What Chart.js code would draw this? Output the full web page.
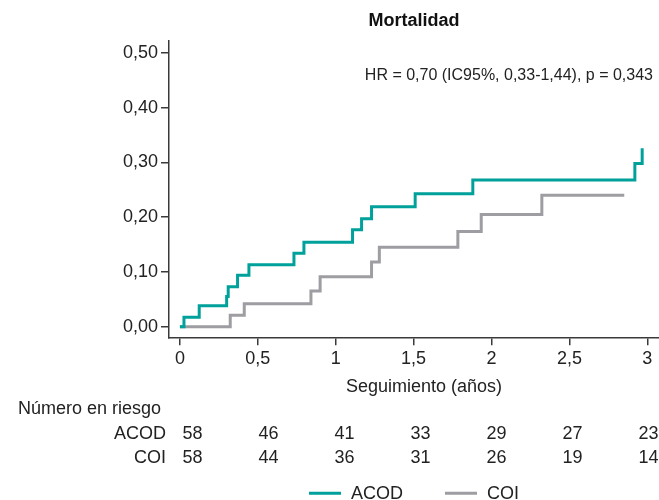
<!DOCTYPE html>
<html lang="es">
<head>
  <meta charset="UTF-8">
  <title>Mortalidad</title>
  <script src="https://cdn.jsdelivr.net/npm/chart.js"></script>
  <style>
    body {
      margin: 0;
      background: #fff;
    }
    #wrap {
      width: 659px;
      height: 500px;
    }
  </style>
</head>
<body>
  <div id="wrap"><canvas id="grafico"></canvas></div>

  <script>
    // curvas de incidencia acumulada (tiempo en años, valor)
    const acodTime = [0, 0.026, 0.124, 0.30, 0.31, 0.37, 0.443, 0.732, 0.796, 1.108, 1.166, 1.23, 1.51, 1.88, 2.92, 2.967];
    const acodValue = [0, 0.017, 0.038, 0.055, 0.073, 0.094, 0.113, 0.134, 0.154, 0.177, 0.197, 0.219, 0.243, 0.268, 0.298, 0.326];
    const coiTime = [0, 0.323, 0.413, 0.841, 0.90, 1.23, 1.28, 1.784, 1.934, 2.323, 2.852];
    const coiValue = [0, 0.021, 0.042, 0.065, 0.091, 0.118, 0.145, 0.174, 0.205, 0.240, 0.240];

    const xTicks = [0, 0.5, 1, 1.5, 2, 2.5, 3];
    const xTickLabels = ["0", "0,5", "1", "1,5", "2", "2,5", "3"];
    const yTicks = [0, 0.1, 0.2, 0.3, 0.4, 0.5];
    const yTickLabels = ["0,00", "0,10", "0,20", "0,30", "0,40", "0,50"];

    // número en riesgo
    const riskGroups = ["ACOD", "COI"];
    const acodRisk = [58, 46, 41, 33, 29, 27, 23];
    const coiRisk = [58, 44, 36, 31, 26, 19, 14];

    const hrText = "HR = 0,70 (IC95%, 0,33-1,44), p = 0,343";
    const xTitle = "Seguimiento (años)";

    const FONT = '"Liberation Sans", Arial, Helvetica, sans-serif';
    const TEXT = "#222";
    const AXIS = "#3a3a3a";

    const toPoints = (ts, vs) => ts.map((t, i) => ({ x: t, y: vs[i] }));

    // textos fuera de los ejes: HR, título del eje x, tabla de riesgo y leyenda
    const extras = {
      id: "extras",
      afterDraw(chart) {
        const ctx = chart.ctx;
        const x = chart.scales.x;
        const area = chart.chartArea;
        const mid = (area.left + area.right) / 2;
        ctx.save();
        ctx.fillStyle = TEXT;
        ctx.textBaseline = "alphabetic";

        ctx.font = "16px " + FONT;
        ctx.textAlign = "right";
        ctx.fillText(hrText, area.right - 6, area.top + 39);

        ctx.font = "18px " + FONT;
        ctx.textAlign = "center";
        ctx.fillText(xTitle, mid + 10, area.bottom + 55);

        ctx.textAlign = "left";
        ctx.fillText("Número en riesgo", 18, area.bottom + 77);
        [acodRisk, coiRisk].forEach((vals, r) => {
          const yy = area.bottom + 102 + r * 24;
          ctx.textAlign = "right";
          ctx.fillText(riskGroups[r], area.left - 3, yy);
          ctx.textAlign = "center";
          vals.forEach((v, i) => {
            const t = xTicks[i];
            ctx.fillText(String(v), x.getPixelForValue(t) + 12.5 - 3.8 * t, yy);
          });
        });

        // leyenda
        const lineLen = 32, gap = 10, between = 42;
        const sets = chart.data.datasets;
        const widths = sets.map(d => lineLen + gap + ctx.measureText(d.label).width);
        let cx = mid - (widths.reduce((a, b) => a + b, 0) + between * (sets.length - 1)) / 2;
        const ly = area.bottom + 156;
        sets.forEach((d, i) => {
          ctx.strokeStyle = d.borderColor;
          ctx.lineWidth = 3;
          ctx.beginPath();
          ctx.moveTo(cx, ly);
          ctx.lineTo(cx + lineLen, ly);
          ctx.stroke();
          ctx.textAlign = "left";
          ctx.fillText(d.label, cx + lineLen + gap, ly + 6);
          cx += widths[i] + between;
        });
        ctx.restore();
      }
    };

    const ctx = document.getElementById("grafico").getContext("2d");
    const grafico = new Chart(ctx, {
      type: "line",
      data: {
        datasets: [
          {
            label: "ACOD",
            data: toPoints(acodTime, acodValue),
            borderColor: "#00a19a",
            backgroundColor: "#00a19a",
            borderWidth: 3,
            stepped: true,
            pointRadius: 0,
            fill: false
          },
          {
            label: "COI",
            data: toPoints(coiTime, coiValue),
            borderColor: "#9d9da2",
            backgroundColor: "#9d9da2",
            borderWidth: 3,
            stepped: true,
            pointRadius: 0,
            fill: false
          }
        ]
      },
      options: {
        responsive: true,
        maintainAspectRatio: false,
        animation: false,
        layout: { padding: 0, autoPadding: false },
        plugins: {
          legend: { display: false },
          tooltip: { enabled: false },
          title: {
            display: true,
            text: "Mortalidad",
            fullSize: false,
            color: "#111",
            font: { family: FONT, size: 18, weight: "bold" },
            padding: { top: 10, bottom: 9.4 }
          }
        },
        scales: {
          x: {
            type: "linear",
            min: -0.07,
            max: 3.075,
            afterBuildTicks: s => { s.ticks = xTicks.map(v => ({ value: v })); },
            afterFit: s => { s.height = 162.7; },
            ticks: {
              callback: (v, i) => xTickLabels[i],
              color: TEXT,
              font: { family: FONT, size: 18 },
              padding: 3,
              maxRotation: 0,
              autoSkip: false
            },
            grid: { drawOnChartArea: false, tickLength: 8, color: AXIS, lineWidth: 1.5 },
            border: { color: AXIS, width: 1.5 }
          },
          y: {
            type: "linear",
            min: -0.0195,
            max: 0.522,
            afterBuildTicks: s => { s.ticks = yTicks.map(v => ({ value: v })); },
            afterFit: s => { s.width = 169; },
            ticks: {
              callback: (v, i) => yTickLabels[i],
              color: TEXT,
              font: { family: FONT, size: 18 },
              padding: 3,
              autoSkip: false
            },
            grid: { drawOnChartArea: false, tickLength: 8, color: AXIS, lineWidth: 1.5 },
            border: { color: AXIS, width: 1.5 }
          }
        }
      },
      plugins: [extras]
    });
  </script>
</body>
</html>
